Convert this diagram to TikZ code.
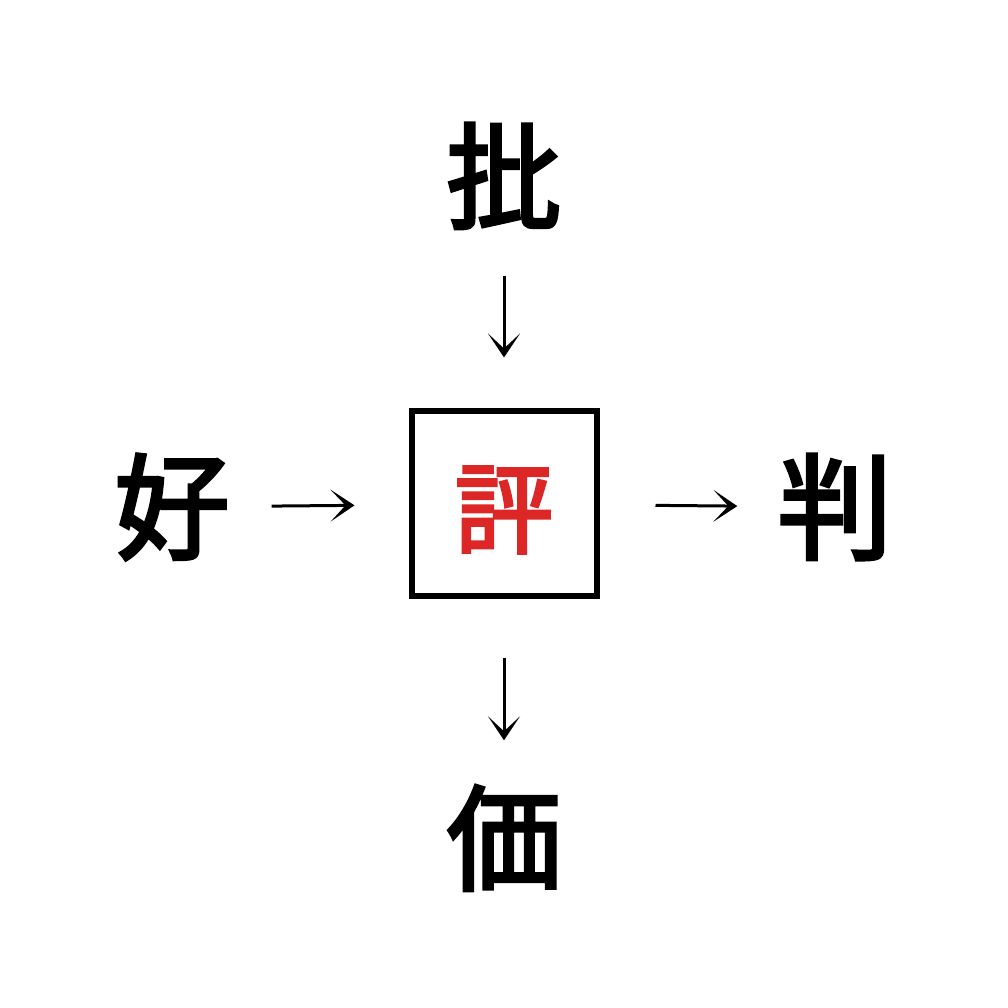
\documentclass[tikz,border=0pt]{standalone}
\usepackage{fontspec}
\newfontfamily\cjk{Noto Sans CJK JP}[BoldFont={Noto Sans CJK JP}, BoldFeatures={FakeBold=3}]
\usetikzlibrary{arrows.meta}
\definecolor{hyored}{RGB}{221,38,38}
\tikzset{
  kanji/.style={inner sep=0pt, minimum size=1.2cm, font=\cjk\bfseries\fontsize{32.7}{33}\selectfont},
  arr/.style={line width=0.3mm, -{Stealth[length=2.4mm, width=3.2mm, inset=1.5mm]}}
}
\begin{document}
\begin{tikzpicture}
                \useasboundingbox (-5.04,-5.04) rectangle (5.04,5.04);
                \node[kanji] (hi) at (0,3.28) {批};
                \node[kanji] (ko) at (-3.32,-0.03) {好};
                \node[kanji] (han) at (3.31,-0.03) {判};
                \node[kanji] (ka) at (0,-3.34) {価};
                \node[draw, line width=0.6mm, minimum size=1.85cm, inner sep=0pt] (hyo) at (0,0) {};
                \node[kanji, text=hyored, font=\cjk\bfseries\fontsize{27.9}{28}\selectfont] (hyochar) at (0,-0.06) {評};

                \draw[arr, shorten <=0.39cm, shorten >=0.51cm] (hi) to (hyo);
                \draw[arr, shorten <=0.39cm, shorten >=0.54cm] (ko) to (hyo);
                \draw[arr, shorten <=0.56cm, shorten >=0.37cm] (hyo) to (han);
                \draw[arr, shorten <=0.59cm, shorten >=0.37cm] (hyo) to (ka);
            \end{tikzpicture}
\end{document}
